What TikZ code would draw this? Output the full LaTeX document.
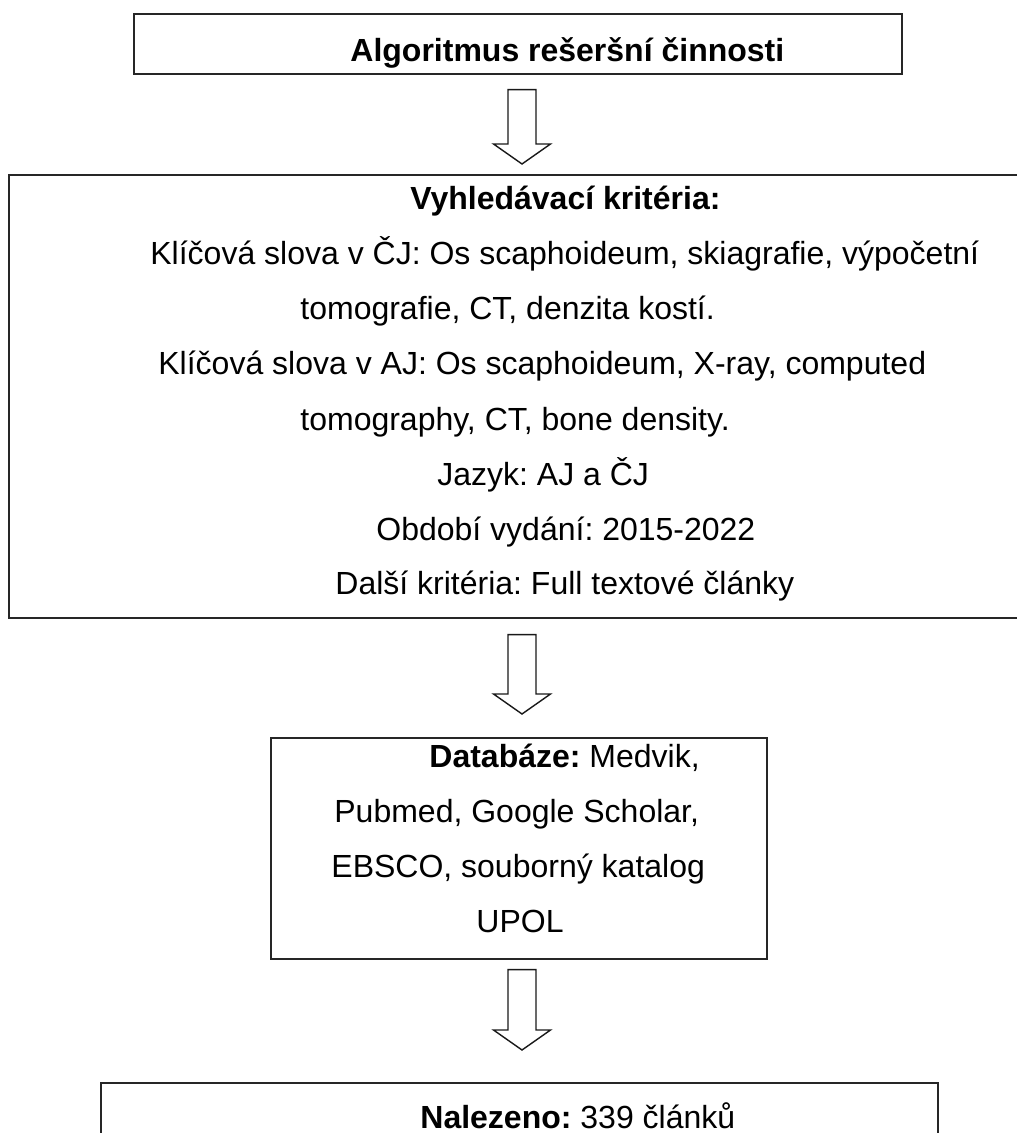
\documentclass[tikz,border=0pt]{standalone}
\usepackage{fontspec}
\setmainfont{Liberation Sans}
\usetikzlibrary{positioning,calc}
\frenchspacing

\tikzset{
  box/.style={rectangle, draw=black!85, line width=0.8pt, anchor=north west, inner sep=0pt},
  line/.style={anchor=base west, inner sep=0pt, font=\fontsize{16pt}{20pt}\selectfont},
  blockarrow/.style={draw=black!90, line width=0.7pt, line join=miter, fill=white}
}

% hollow down arrow: from node, to node, gap below #1, gap above #2 (px)
\newcommand{\hollowarrow}[4]{%
  \path (#1.south -| axis) ++(0,#3) coordinate (top)
        (#2.north -| axis) ++(0,-#4) coordinate (tip);
  \draw[blockarrow] ($(top)+(-14,0)$) -- ($(tip)+(-14,-20)$) -- ($(tip)+(-28.5,-20)$) -- (tip)
    -- ($(tip)+(28.5,-20)$) -- ($(tip)+(14,-20)$) -- ($(top)+(14,0)$) -- cycle;}

\begin{document}
\begin{tikzpicture}[x=0.5pt, y=-0.5pt]
    \useasboundingbox (0,0) rectangle (1016,1133);
    \coordinate (axis) at (522,0);

    % boxes
    \node [box, minimum width=384pt, minimum height=30pt] (title) at (133,13) {};
    \node [box, minimum width=512pt, minimum height=221.5pt] (criteria) at (8,174) {};
    \node [box, minimum width=248pt, minimum height=110.5pt] (databases) at (270,737) {};
    \node [box, minimum width=418.5pt, minimum height=60pt] (found) at (100,1082) {};

    % texts
    \node [line, font=\fontsize{16pt}{20pt}\selectfont\bfseries] (titleText) at (350,62) {Algoritmus rešeršní činnosti};

    \node [line, font=\fontsize{16pt}{20pt}\selectfont\bfseries] (critHead) at (410,210) {Vyhledávací kritéria:};
    \node [line] (kwCz1) at (150,265) {Klíčová slova v ČJ: Os scaphoideum, skiagrafie, výpočetní};
    \node [line] (kwCz2) at (300,320) {tomografie, CT, denzita kostí.};
    \node [line] (kwEn1) at (158,375) {Klíčová slova v AJ: Os scaphoideum, X-ray, computed};
    \node [line] (kwEn2) at (300,430) {tomography, CT, bone density.};
    \node [line] (lang) at (437,485) {Jazyk: AJ a ČJ};
    \node [line] (period) at (376,540) {Období vydání: 2015-2022};
    \node [line] (other) at (335,594) {Další kritéria: Full textové články};

    \node [line] (db1) at (429,767) {\textbf{Databáze:} Medvik,};
    \node [line] (db2) at (334,822) {Pubmed, Google Scholar,};
    \node [line] (db3) at (331,877) {EBSCO, souborný katalog};
    \node [line] (db4) at (476,932) {UPOL};

    \node [line] (foundText) at (420,1128) {\textbf{Nalezeno:} 339 článků};

    % arrows
    \hollowarrow{title}{criteria}{15}{10}
    \hollowarrow{criteria}{databases}{16}{23}
    \hollowarrow{databases}{found}{10}{32}
\end{tikzpicture}
\end{document}
